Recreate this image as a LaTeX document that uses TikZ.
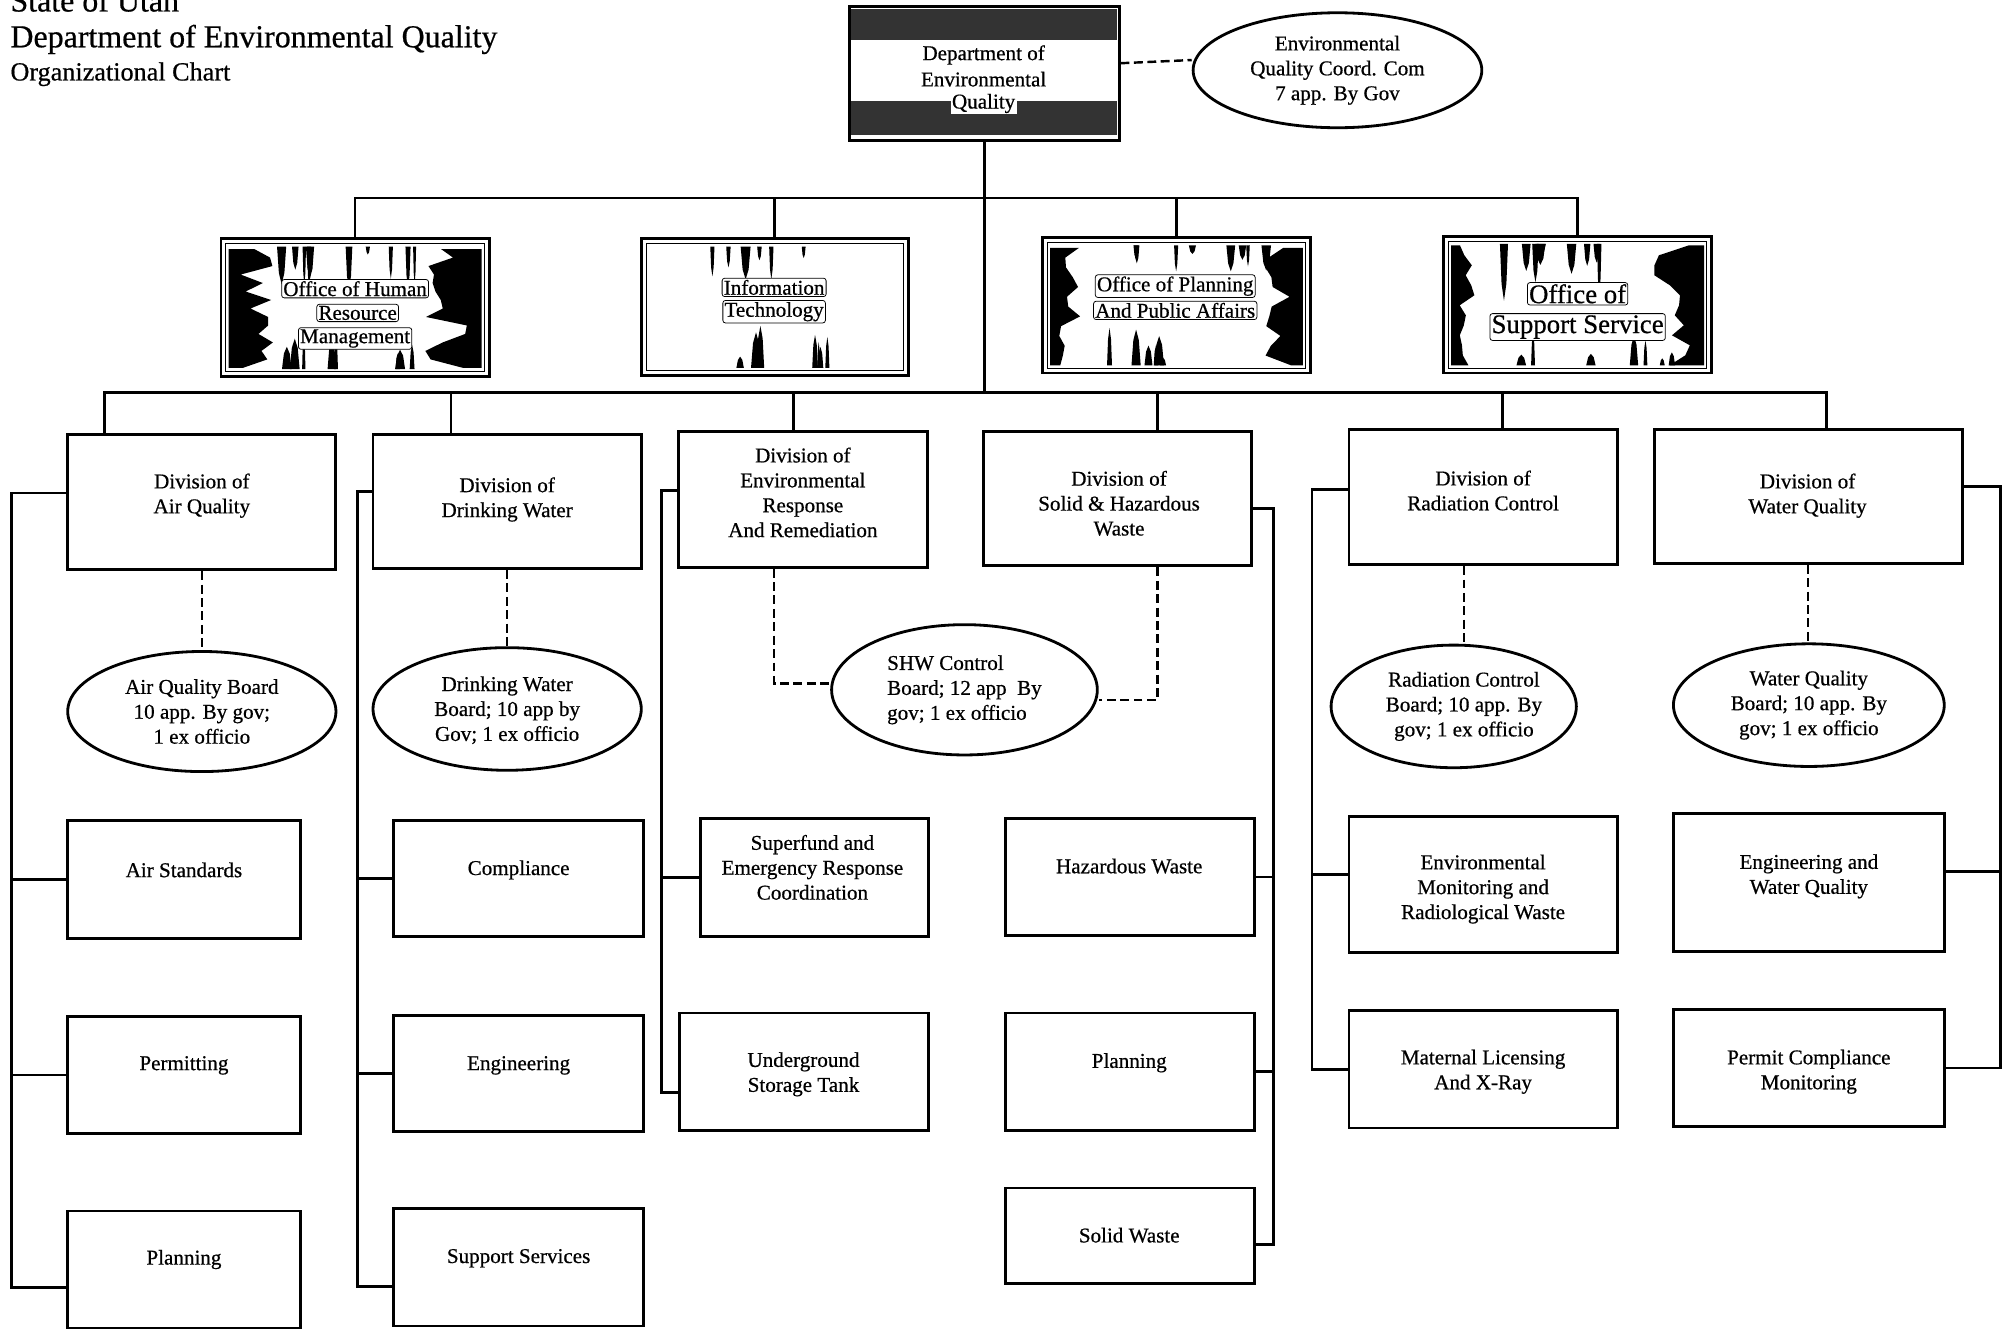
\documentclass[tikz,border=0pt]{standalone}
\usepackage{fontspec}
\setmainfont{Liberation Serif}[FakeBold=0.6]
\usetikzlibrary{shapes.geometric}

\newcommand{\drips}[6]{%
  \foreach \i in {1,...,#5}{%
    \pgfmathsetmacro{\bx}{#1+rnd*(#2-#1)}%
    \pgfmathsetmacro{\bw}{2+rnd*6}%
    \pgfmathsetmacro{\bl}{(#4)*(5+rnd*#6)}%
    \fill (\bx,#3) -- ({\bx+\bw},#3) -- ({\bx+0.8*\bw},{#3+0.7*\bl}) -- ({\bx+0.5*\bw},{#3+\bl}) -- ({\bx+0.2*\bw},{#3+0.7*\bl}) -- cycle;
  }}
\newcommand{\sideband}[5]{%
  \fill (#1,#3) foreach \k in {0,...,#5}{ -- ({#1+(#2)*(0.25+0.75*rnd)},{#3+\k*(#4-#3)/#5}) } -- (#1,#4) -- cycle;}

\begin{document}
\begin{tikzpicture}[x=1pt,y=-1pt,
  box/.style={draw, line width=2.3pt, inner sep=0pt, fill=white},
  oval/.style={draw, ellipse, line width=2.2pt, inner sep=0pt, fill=white},
  txt/.style={font=\fontsize{16.5}{19.5}\selectfont, align=center, inner sep=0pt},
  halo/.style={txt, fill=white, draw=black, line width=0.6pt, rounded corners=2pt, inner sep=1.3pt},
  conn/.style={line width=2.1pt},
  dconn/.style={line width=1.9pt, dash pattern=on 7pt off 3.5pt}
]
\useasboundingbox (0,0) rectangle (1568,1040);
\clip (0,0) rectangle (1568,1040);
\pgfmathsetseed{12}

% ---------- titles
\node[anchor=base west, inner sep=0pt, font=\fontsize{25}{30}\selectfont] (t0) at (8,9) {State of Utah};
\node[anchor=base west, inner sep=0pt, font=\fontsize{25}{30}\selectfont] (t1) at (8,37) {Department of Environmental Quality};
\node[anchor=base west, inner sep=0pt, font=\fontsize{20.5}{24}\selectfont] (t2) at (8,63) {Organizational Chart};

% ---------- top box
\node[box, minimum width=211pt, minimum height=105pt] (deq) at (770.5,57.5) {};
\fill[black!80] (666.5,7) rectangle (874.5,31);
\fill[black!80] (666.5,79) rectangle (874.5,106);
\node[txt, fill=white, inner sep=1pt] (deq1) at (770,43) {Department of};
\node[txt, fill=white, inner sep=1pt] (deq2) at (770,62) {Environmental};
\node[txt, fill=white, inner sep=1pt] (deq3) at (770,81) {Quality};

\node[oval, minimum width=226pt, minimum height=90pt] (eqc) at (1047,55) {};
\node[txt] (eqct) at (1047,55) {Environmental\\Quality Coord. Com\\7 app. By Gov};

% ---------- offices
\node[box, minimum width=210pt, minimum height=108pt] (hr) at (278,241) {};
\node[box, minimum width=209pt, minimum height=107pt] (it) at (606.5,240.5) {};
\node[box, minimum width=210pt, minimum height=106pt] (opa) at (921,239) {};
\node[box, minimum width=210pt, minimum height=107pt] (oss) at (1235,238.5) {};
\foreach \o in {hr,it,opa,oss}
  \draw[line width=0.8pt] ([shift={(5pt,-5pt)}]\o.north west) rectangle ([shift={(-5pt,5pt)}]\o.south east);

% scan blots
\sideband{179}{35}{195}{288}{14}
\sideband{377}{-45}{195}{288}{14}
\drips{215}{335}{193}{1}{10}{30}
\drips{215}{335}{289}{-1}{8}{25}
\drips{555}{650}{193}{1}{6}{25}
\drips{560}{650}{288}{-1}{7}{35}
\sideband{822}{25}{194}{286}{12}
\sideband{1020}{-30}{194}{286}{12}
\drips{850}{990}{192}{1}{8}{25}
\drips{850}{990}{286}{-1}{6}{25}
\sideband{1136}{22}{192}{286}{12}
\sideband{1334}{-40}{192}{286}{12}
\drips{1160}{1300}{191}{1}{9}{40}
\drips{1170}{1310}{286}{-1}{7}{25}

\node[halo] (hr1) at (278,226) {Office of Human};
\node[halo] (hr2) at (280,245) {Resource};
\node[halo] (hr3) at (278,265) {Management};
\node[halo] (it1) at (606,225) {Information};
\node[halo] (it2) at (606,244) {Technology};
\node[halo] (opa1) at (920,224) {Office of Planning};
\node[halo] (opa2) at (920,243) {And Public Affairs};
\node[halo, font=\fontsize{21}{25}\selectfont] (oss1) at (1235,230) {Office of};
\node[halo, font=\fontsize{21}{25}\selectfont] (oss2) at (1235,256) {Support Service};

% ---------- divisions
\node[box, minimum width=210pt, minimum height=106pt] (daq) at (158,393) {};
\node[txt] (daqt) at (158,388) {Division of\\Air Quality};
\node[box, minimum width=210pt, minimum height=105pt] (ddw) at (397,392.5) {};
\node[txt] (ddwt) at (397,391) {Division of\\Drinking Water};
\node[box, minimum width=195pt, minimum height=106pt] (der) at (628.5,391) {};
\node[txt] (dert) at (628.5,385.5) {Division of\\Environmental\\Response\\And Remediation};
\node[box, minimum width=210pt, minimum height=105pt] (dsh) at (875,390.5) {};
\node[txt] (dsht) at (876,394) {Division of\\Solid \& Hazardous\\Waste};
\node[box, minimum width=210pt, minimum height=106pt] (drc) at (1161,389) {};
\node[txt] (drct) at (1161,384) {Division of\\Radiation Control};
\node[box, minimum width=241pt, minimum height=105pt] (dwq) at (1415.5,388.5) {};
\node[txt] (dwqt) at (1415,388) {Division of\\Water Quality};

% ---------- boards
\node[oval, minimum width=210pt, minimum height=94pt] (baq) at (158,557) {};
\node[txt] (baqt) at (158,557) {Air Quality Board\\10 app. By gov;\\1 ex officio};
\node[oval, minimum width=210pt, minimum height=96pt] (bdw) at (397,555) {};
\node[txt] (bdwt) at (397,556) {Drinking Water\\Board; 10 app by\\Gov; 1 ex officio};
\node[oval, minimum width=208pt, minimum height=102pt] (bshw) at (755,540) {};
\node[txt, align=left] (bshwt) at (755,540) {SHW Control\\Board; 12 app~~By\\gov; 1 ex officio};
\node[oval, minimum width=192pt, minimum height=96pt] (brc) at (1138,553) {};
\node[txt] (brct) at (1146,553) {Radiation Control\\Board; 10 app. By\\gov; 1 ex officio};
\node[oval, minimum width=212pt, minimum height=96pt] (bwq) at (1416,552) {};
\node[txt] (bwqt) at (1416,552) {Water Quality\\Board; 10 app. By\\gov; 1 ex officio};

% ---------- units
\node[box, minimum width=182pt, minimum height=93pt] (as1) at (144,688.5) {};
\node[txt] (as1t) at (144,681) {Air Standards};
\node[box, minimum width=182pt, minimum height=91pt] (as2) at (144,841.5) {};
\node[txt] (as2t) at (144,834) {Permitting};
\node[box, minimum width=182pt, minimum height=92pt] (as3) at (144,994) {};
\node[txt] (as3t) at (144,986) {Planning};

\node[box, minimum width=196pt, minimum height=91pt] (dw1) at (406,687.5) {};
\node[txt] (dw1t) at (406,681) {Compliance};
\node[box, minimum width=196pt, minimum height=91pt] (dw2) at (406,840.5) {};
\node[txt] (dw2t) at (406,834) {Engineering};
\node[box, minimum width=196pt, minimum height=92pt] (dw3) at (406,992) {};
\node[txt] (dw3t) at (406,985) {Support Services};

\node[box, minimum width=179pt, minimum height=92pt] (er1) at (637.5,687) {};
\node[txt] (er1t) at (636,679) {Superfund and\\Emergency Response\\Coordination};
\node[box, minimum width=195pt, minimum height=92pt] (er2) at (629.5,839) {};
\node[txt] (er2t) at (629,841) {Underground\\Storage Tank};

\node[box, minimum width=195pt, minimum height=91pt] (sh1) at (884.5,686.5) {};
\node[txt] (sh1t) at (884,678) {Hazardous Waste};
\node[box, minimum width=195pt, minimum height=92pt] (sh2) at (884.5,839) {};
\node[txt] (sh2t) at (884,832) {Planning};
\node[box, minimum width=195pt, minimum height=75pt] (sh3) at (884.5,967.5) {};
\node[txt] (sh3t) at (884,967) {Solid Waste};

\node[box, minimum width=210pt, minimum height=107pt] (rc1) at (1161,692.5) {};
\node[txt] (rc1t) at (1161,696) {Environmental\\Monitoring and\\Radiological Waste};
\node[box, minimum width=210pt, minimum height=92pt] (rc2) at (1161,837) {};
\node[txt] (rc2t) at (1161,839) {Maternal Licensing\\And X-Ray};

\node[box, minimum width=212pt, minimum height=108pt] (wq1) at (1416,691) {};
\node[txt] (wq1t) at (1416,686) {Engineering and\\Water Quality};
\node[box, minimum width=212pt, minimum height=92pt] (wq2) at (1416,836) {};
\node[txt] (wq2t) at (1416,839) {Permit Compliance\\Monitoring};

% ---------- connectors: hierarchy
\coordinate (ob) at (0,155);
\coordinate (db) at (0,307);
\draw[conn] (deq.south) -- (deq.south |- db);
\draw[conn] (hr.north) -- (hr.north |- ob) -- (oss.north |- ob) -- (oss.north);
\draw[conn] (it.north) -- (it.north |- ob);
\draw[conn] (opa.north) -- (opa.north |- ob);

\coordinate (daqn) at ([xshift=-76pt]daq.north);
\coordinate (ddwn) at ([xshift=-44pt]ddw.north);
\coordinate (dern) at ([xshift=-7.5pt]der.north);
\coordinate (dshn) at ([xshift=31pt]dsh.north);
\coordinate (drcn) at ([xshift=15pt]drc.north);
\coordinate (dwqn) at ([xshift=14.5pt]dwq.north);
\draw[conn] (daqn) -- (daqn |- db) -- (dwqn |- db) -- (dwqn);
\foreach \n in {ddwn,dern,dshn,drcn} \draw[conn] (\n) -- (\n |- db);

% ---------- dashed links
\draw[dconn] ([yshift=8pt]deq.east) -- ([yshift=8pt]eqc.west);
\draw[dconn] (daq.south) -- (baq.north);
\draw[dconn] (ddw.south) -- (bdw.north);
\coordinate (drcs) at ([xshift=-15pt]drc.south);
\draw[dconn] (drcs) -- (drcs |- brc.north);
\draw[dconn] (dwq.south) -- (dwq.south |- bwq.north);
\coordinate (ders) at ([xshift=-22.5pt]der.south);
\coordinate (bshwl) at ([yshift=5pt]bshw.west);
\draw[dconn] (ders) |- (bshwl);
\coordinate (dshs) at ([xshift=31pt]dsh.south);
\coordinate (bshwr) at ([yshift=-8pt]bshw.east);
\draw[dconn] (dshs) |- (bshwr);

% ---------- side buses
% Air Quality
\coordinate (aqx) at (9,0);
\coordinate (daqw) at ([yshift=7pt]daq.west);
\coordinate (as3w) at ([yshift=-14pt]as3.west);
\draw[conn] (daqw) -| (as3w -| aqx) -- (as3w);
\draw[conn] (as1.west) -- (as1.west -| aqx);
\draw[conn] (as2.west) -- (as2.west -| aqx);
% Drinking Water
\coordinate (dwx) at (280,0);
\coordinate (ddww) at ([yshift=7.5pt]ddw.west);
\coordinate (dw3w) at ([yshift=-15pt]dw3.west);
\draw[conn] (ddww) -| (dw3w -| dwx) -- (dw3w);
\draw[conn] (dw1.west) -- (dw1.west -| dwx);
\draw[conn] (dw2.west) -- (dw2.west -| dwx);
% Environmental Response
\coordinate (erx) at (518,0);
\coordinate (derw) at ([yshift=7pt]der.west);
\coordinate (er2w) at ([yshift=-16pt]er2.west);
\draw[conn] (derw) -| (er2w -| erx) -- (er2w);
\draw[conn] (er1.west) -- (er1.west -| erx);
% Solid & Hazardous Waste
\coordinate (shx) at (997,0);
\coordinate (dshe) at ([yshift=-7.5pt]dsh.east);
\coordinate (sh3e) at ([yshift=-6.5pt]sh3.east);
\draw[conn] (dshe) -| (sh3e -| shx) -- (sh3e);
\draw[conn] (sh1.east) -- (sh1.east -| shx);
\draw[conn] (sh2.east) -- (sh2.east -| shx);
% Radiation Control
\coordinate (rcx) at (1027,0);
\coordinate (drcw) at ([yshift=6pt]drc.west);
\coordinate (rc1w) at ([yshift=8pt]rc1.west);
\draw[conn] (drcw) -| (rc2.west -| rcx) -- (rc2.west);
\draw[conn] (rc1w) -- (rc1w -| rcx);
% Water Quality
\coordinate (wqx) at (1566,0);
\coordinate (dwqe) at ([yshift=7.5pt]dwq.east);
\coordinate (wq1e) at ([yshift=9pt]wq1.east);
\draw[conn] (dwqe) -| (wq2.east -| wqx) -- (wq2.east);
\draw[conn] (wq1e) -- (wq1e -| wqx);
\end{tikzpicture}
\end{document}
